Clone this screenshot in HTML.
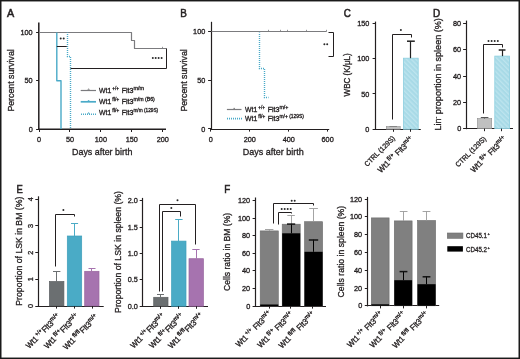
<!DOCTYPE html><html><head><meta charset="utf-8"><style>html,body{margin:0;padding:0;background:#fff;}svg{display:block;will-change:transform;font-family:"Liberation Sans", sans-serif;}text{stroke:#231f20;stroke-width:0.32px;}</style></head><body>
<svg width="520" height="359" viewBox="0 0 520 359">
<defs><pattern id="hatch" patternUnits="userSpaceOnUse" width="3.4" height="3.4" patternTransform="rotate(-45)"><rect width="3.4" height="3.4" fill="#a8dae7"/><rect width="1.3" height="3.4" fill="#bde4ee"/></pattern></defs>
<rect x="0" y="0" width="520" height="359" fill="#fff"/>
<text x="7.0" y="16.8" font-size="11" fill="#231f20" style="stroke-width:0.55px" textLength="7.2" lengthAdjust="spacingAndGlyphs">A</text>
<line x1="38.8" y1="22.4" x2="38.8" y2="129.9" stroke="#231f20" stroke-width="1.5" stroke-linecap="butt"/>
<line x1="38.3" y1="129.2" x2="166.0" y2="129.2" stroke="#231f20" stroke-width="1.5" stroke-linecap="butt"/>
<line x1="36.1" y1="32.5" x2="39.0" y2="32.5" stroke="#231f20" stroke-width="1.0" stroke-linecap="butt"/>
<text x="32.7" y="35.0" font-size="7.3" text-anchor="end" fill="#231f20">100</text>
<line x1="36.1" y1="80.5" x2="39.0" y2="80.5" stroke="#231f20" stroke-width="1.0" stroke-linecap="butt"/>
<text x="32.7" y="83.3" font-size="7.3" text-anchor="end" fill="#231f20">50</text>
<line x1="36.1" y1="129.5" x2="39.0" y2="129.5" stroke="#231f20" stroke-width="1.0" stroke-linecap="butt"/>
<text x="32.7" y="131.8" font-size="7.3" text-anchor="end" fill="#231f20">0</text>
<line x1="39.5" y1="129.2" x2="39.5" y2="132.0" stroke="#231f20" stroke-width="1.0" stroke-linecap="butt"/>
<text x="39.0" y="141.9" font-size="7.3" text-anchor="middle" fill="#231f20">0</text>
<line x1="69.5" y1="129.2" x2="69.5" y2="132.0" stroke="#231f20" stroke-width="1.0" stroke-linecap="butt"/>
<text x="69.95" y="141.9" font-size="7.3" text-anchor="middle" fill="#231f20">50</text>
<line x1="100.5" y1="129.2" x2="100.5" y2="132.0" stroke="#231f20" stroke-width="1.0" stroke-linecap="butt"/>
<text x="100.9" y="141.9" font-size="7.3" text-anchor="middle" fill="#231f20">100</text>
<line x1="131.5" y1="129.2" x2="131.5" y2="132.0" stroke="#231f20" stroke-width="1.0" stroke-linecap="butt"/>
<text x="131.85" y="141.9" font-size="7.3" text-anchor="middle" fill="#231f20">150</text>
<line x1="162.5" y1="129.2" x2="162.5" y2="132.0" stroke="#231f20" stroke-width="1.0" stroke-linecap="butt"/>
<text x="162.8" y="141.9" font-size="7.3" text-anchor="middle" fill="#231f20">200</text>
<text x="72.0" y="155.1" font-size="9.5" fill="#231f20" textLength="60.4" lengthAdjust="spacingAndGlyphs">Days after birth</text>
<g transform="translate(13.70,111.60) rotate(-90) scale(0.8866,1)"><text x="0" y="0" font-size="9.9" fill="#231f20">Percent survival</text></g>
<polyline points="39.5,32.5 131.5,32.5 131.5,40.5 134.5,40.5 134.5,48.5 166.5,48.5" fill="none" stroke="#7b7b7e" stroke-width="1.2" stroke-linejoin="round"/>
<line x1="162.5" y1="48.6" x2="162.5" y2="46.8" stroke="#7b7b7e" stroke-width="0.8" stroke-linecap="butt"/>
<polyline points="56.8,32.4 56.8,80.7 61.0,80.7 61.0,129.0" fill="none" stroke="#4aaac8" stroke-width="1.4" stroke-linejoin="round"/>
<polyline points="67.5,32.5 67.5,56.5 70.5,56.5 70.5,129" fill="none" stroke="#4aaac8" stroke-width="1.4" stroke-dasharray="1,1" stroke-dashoffset="0.5"/>
<line x1="56.8" y1="46.5" x2="66.8" y2="46.5" stroke="#231f20" stroke-width="1.0" stroke-linecap="butt"/>
<circle cx="60.7" cy="38.6" r="1.0" fill="#2a2a2a"/>
<circle cx="63.7" cy="38.6" r="1.0" fill="#2a2a2a"/>
<polyline points="70.5,68.5 166.5,68.5 166.5,48.5" fill="none" stroke="#231f20" stroke-width="1.0" stroke-linejoin="round"/>
<circle cx="152.8" cy="58.1" r="1.0" fill="#2a2a2a"/>
<circle cx="155.7" cy="58.1" r="1.0" fill="#2a2a2a"/>
<circle cx="158.6" cy="58.1" r="1.0" fill="#2a2a2a"/>
<circle cx="161.6" cy="58.1" r="1.0" fill="#2a2a2a"/>
<line x1="80.7" y1="90.5" x2="96.0" y2="90.5" stroke="#7b7b7e" stroke-width="1.2" stroke-linecap="butt"/>
<line x1="80.7" y1="101.8" x2="96.0" y2="101.8" stroke="#4aaac8" stroke-width="1.7" stroke-linecap="butt"/>
<line x1="81" y1="114.3" x2="96" y2="114.3" stroke="#4aaac8" stroke-width="1.6" stroke-dasharray="1,1"/>
<path d="M87.6,90.5 L88.6,88.7 L89.6,90.5" fill="none" stroke="#7b7b7e" stroke-width="0.8"/>
<path d="M87.6,101.8 L88.6,100.0 L89.6,101.8" fill="none" stroke="#4aaac8" stroke-width="0.8"/>
<path d="M87.6,114.3 L88.6,112.5 L89.6,114.3" fill="none" stroke="#4aaac8" stroke-width="0.8"/>
<text x="99.1" y="92.9" font-size="7.6" fill="#231f20" textLength="12.2" lengthAdjust="spacingAndGlyphs">Wt1</text>
<text x="112.3" y="89.9" font-size="5.4" fill="#231f20" textLength="6.8" lengthAdjust="spacingAndGlyphs">+/+</text>
<text x="121.7" y="92.9" font-size="7.6" fill="#231f20" textLength="11.8" lengthAdjust="spacingAndGlyphs">Flt3</text>
<text x="133.4" y="89.9" font-size="5.4" fill="#231f20" textLength="10.6" lengthAdjust="spacingAndGlyphs">m/m</text>
<text x="99.1" y="104.0" font-size="7.6" fill="#231f20" textLength="12.2" lengthAdjust="spacingAndGlyphs">Wt1</text>
<text x="112.3" y="101.0" font-size="5.4" fill="#231f20" textLength="7.1" lengthAdjust="spacingAndGlyphs">fl/+</text>
<text x="121.7" y="104.0" font-size="7.6" fill="#231f20" textLength="11.8" lengthAdjust="spacingAndGlyphs">Flt3</text>
<text x="133.4" y="101.0" font-size="5.4" fill="#231f20" textLength="21.4" lengthAdjust="spacingAndGlyphs">m/m (B6)</text>
<text x="99.1" y="115.2" font-size="7.6" fill="#231f20" textLength="12.2" lengthAdjust="spacingAndGlyphs">Wt1</text>
<text x="112.3" y="112.2" font-size="5.4" fill="#231f20" textLength="7.1" lengthAdjust="spacingAndGlyphs">fl/+</text>
<text x="121.7" y="115.2" font-size="7.6" fill="#231f20" textLength="11.8" lengthAdjust="spacingAndGlyphs">Flt3</text>
<text x="133.4" y="112.2" font-size="5.4" fill="#231f20" textLength="24.8" lengthAdjust="spacingAndGlyphs">m/m (129S)</text>
<text x="180.2" y="16.9" font-size="11" fill="#231f20" style="stroke-width:0.55px" textLength="6.6" lengthAdjust="spacingAndGlyphs">B</text>
<line x1="211.5" y1="21.8" x2="211.5" y2="129.6" stroke="#231f20" stroke-width="1.2" stroke-linecap="butt"/>
<line x1="210.4" y1="129.5" x2="329.2" y2="129.5" stroke="#231f20" stroke-width="1.2" stroke-linecap="butt"/>
<line x1="208.1" y1="31.5" x2="211.0" y2="31.5" stroke="#231f20" stroke-width="1.0" stroke-linecap="butt"/>
<text x="205.3" y="34.1" font-size="7.3" text-anchor="end" fill="#231f20">100</text>
<line x1="208.1" y1="80.5" x2="211.0" y2="80.5" stroke="#231f20" stroke-width="1.0" stroke-linecap="butt"/>
<text x="205.3" y="82.7" font-size="7.3" text-anchor="end" fill="#231f20">50</text>
<line x1="208.1" y1="128.5" x2="211.0" y2="128.5" stroke="#231f20" stroke-width="1.0" stroke-linecap="butt"/>
<text x="205.3" y="131.5" font-size="7.3" text-anchor="end" fill="#231f20">0</text>
<line x1="210.5" y1="129.0" x2="210.5" y2="131.6" stroke="#231f20" stroke-width="1.0" stroke-linecap="butt"/>
<text x="210.9" y="141.9" font-size="7.3" text-anchor="middle" fill="#231f20">0</text>
<line x1="249.5" y1="129.0" x2="249.5" y2="131.6" stroke="#231f20" stroke-width="1.0" stroke-linecap="butt"/>
<text x="249.82" y="141.9" font-size="7.3" text-anchor="middle" fill="#231f20">200</text>
<line x1="288.5" y1="129.0" x2="288.5" y2="131.6" stroke="#231f20" stroke-width="1.0" stroke-linecap="butt"/>
<text x="288.74" y="141.9" font-size="7.3" text-anchor="middle" fill="#231f20">400</text>
<line x1="327.5" y1="129.0" x2="327.5" y2="131.6" stroke="#231f20" stroke-width="1.0" stroke-linecap="butt"/>
<text x="327.66" y="141.9" font-size="7.3" text-anchor="middle" fill="#231f20">600</text>
<text x="242.8" y="155.0" font-size="9.5" fill="#231f20" textLength="61.0" lengthAdjust="spacingAndGlyphs">Days after birth</text>
<g transform="translate(186.80,111.60) rotate(-90) scale(0.8866,1)"><text x="0" y="0" font-size="9.9" fill="#231f20">Percent survival</text></g>
<polyline points="211.5,31.5 326.5,31.5" fill="none" stroke="#7b7b7e" stroke-width="1.2" stroke-linejoin="round"/>
<line x1="268.5" y1="31.6" x2="268.5" y2="29.8" stroke="#7b7b7e" stroke-width="0.8" stroke-linecap="butt"/>
<line x1="280.5" y1="31.6" x2="280.5" y2="29.8" stroke="#7b7b7e" stroke-width="0.8" stroke-linecap="butt"/>
<line x1="287.5" y1="31.6" x2="287.5" y2="29.8" stroke="#7b7b7e" stroke-width="0.8" stroke-linecap="butt"/>
<line x1="306.5" y1="31.6" x2="306.5" y2="29.8" stroke="#7b7b7e" stroke-width="0.8" stroke-linecap="butt"/>
<line x1="326.5" y1="31.6" x2="326.5" y2="29.8" stroke="#7b7b7e" stroke-width="0.8" stroke-linecap="butt"/>
<polyline points="259.5,32.5 259.5,68.5 264.5,68.5 264.5,97.5 268.5,97.5" fill="none" stroke="#4aaac8" stroke-width="1.4" stroke-dasharray="1,1" stroke-dashoffset="0.5"/>
<polyline points="328.5,32.5 333.5,32.5 333.5,56.5 328.5,56.5" fill="none" stroke="#231f20" stroke-width="1.0" stroke-linejoin="round"/>
<circle cx="324.4" cy="44.2" r="1.0" fill="#2a2a2a"/>
<circle cx="327.2" cy="44.2" r="1.0" fill="#2a2a2a"/>
<line x1="226.9" y1="109.5" x2="241.5" y2="109.5" stroke="#7b7b7e" stroke-width="1.2" stroke-linecap="butt"/>
<path d="M233.4,109.5 L234.2,107.9 L235.0,109.5" fill="none" stroke="#7b7b7e" stroke-width="0.8"/>
<line x1="227" y1="118.6" x2="242" y2="118.6" stroke="#4aaac8" stroke-width="1.6" stroke-dasharray="1,1"/>
<text x="245.1" y="111.9" font-size="7.6" fill="#231f20" textLength="12.2" lengthAdjust="spacingAndGlyphs">Wt1</text>
<text x="258.3" y="108.9" font-size="5.4" fill="#231f20" textLength="6.8" lengthAdjust="spacingAndGlyphs">+/+</text>
<text x="267.7" y="111.9" font-size="7.6" fill="#231f20" textLength="11.8" lengthAdjust="spacingAndGlyphs">Flt3</text>
<text x="279.4" y="108.9" font-size="5.4" fill="#231f20" textLength="9.1" lengthAdjust="spacingAndGlyphs">m/+</text>
<text x="245.1" y="120.5" font-size="7.6" fill="#231f20" textLength="12.2" lengthAdjust="spacingAndGlyphs">Wt1</text>
<text x="258.3" y="117.5" font-size="5.4" fill="#231f20" textLength="7.1" lengthAdjust="spacingAndGlyphs">fl/+</text>
<text x="267.7" y="120.5" font-size="7.6" fill="#231f20" textLength="11.8" lengthAdjust="spacingAndGlyphs">Flt3</text>
<text x="279.4" y="117.5" font-size="5.4" fill="#231f20" textLength="24.6" lengthAdjust="spacingAndGlyphs">m/+ (129S)</text>
<text x="343.8" y="16.8" font-size="11" fill="#231f20" style="stroke-width:0.55px" textLength="7.1" lengthAdjust="spacingAndGlyphs">C</text>
<line x1="375.5" y1="21.6" x2="375.5" y2="129.8" stroke="#231f20" stroke-width="1.2" stroke-linecap="butt"/>
<line x1="374.9" y1="129.5" x2="420.8" y2="129.5" stroke="#231f20" stroke-width="1.2" stroke-linecap="butt"/>
<line x1="372.6" y1="129.5" x2="375.5" y2="129.5" stroke="#231f20" stroke-width="1.0" stroke-linecap="butt"/>
<text x="369.4" y="131.8" font-size="7.3" text-anchor="end" fill="#231f20">0</text>
<line x1="372.6" y1="93.5" x2="375.5" y2="93.5" stroke="#231f20" stroke-width="1.0" stroke-linecap="butt"/>
<text x="369.4" y="96.57" font-size="7.3" text-anchor="end" fill="#231f20">50</text>
<line x1="372.6" y1="58.5" x2="375.5" y2="58.5" stroke="#231f20" stroke-width="1.0" stroke-linecap="butt"/>
<text x="369.4" y="61.34" font-size="7.3" text-anchor="end" fill="#231f20">100</text>
<line x1="372.6" y1="23.5" x2="375.5" y2="23.5" stroke="#231f20" stroke-width="1.0" stroke-linecap="butt"/>
<text x="369.4" y="26.11" font-size="7.3" text-anchor="end" fill="#231f20">150</text>
<g transform="translate(349.70,96.50) rotate(-90) scale(0.8174,1)"><text x="0" y="0" font-size="9.9" fill="#231f20">WBC (K/μL)</text></g>
<rect x="386.3" y="126.6" width="13.9" height="2.6" fill="#c0c0c0" stroke="#8c8c8c" stroke-width="0.6"/>
<line x1="389.5" y1="126.5" x2="397.0" y2="126.5" stroke="#7a7a7a" stroke-width="0.8" stroke-linecap="butt"/>
<rect x="403.4" y="58.2" width="14.8" height="71.0" fill="url(#hatch)" stroke="#8ccfe0" stroke-width="0.8"/>
<line x1="410.5" y1="58.2" x2="410.5" y2="41.0" stroke="#222" stroke-width="1.2" stroke-linecap="butt"/>
<line x1="407.0" y1="41.2" x2="414.8" y2="41.2" stroke="#222" stroke-width="1.5" stroke-linecap="butt"/>
<polyline points="392.5,119.5 392.5,34.5 411.5,34.5 411.5,37.5" fill="none" stroke="#231f20" stroke-width="1.0" stroke-linejoin="round"/>
<circle cx="400.9" cy="30.0" r="1.0" fill="#2a2a2a"/>
<line x1="393.5" y1="129.2" x2="393.5" y2="131.8" stroke="#231f20" stroke-width="1.0" stroke-linecap="butt"/>
<line x1="410.5" y1="129.2" x2="410.5" y2="131.8" stroke="#231f20" stroke-width="1.0" stroke-linecap="butt"/>
<g transform="rotate(-45) translate(181.57,377.74) scale(0.99)">
<text x="-40.5" y="0" font-size="7.2" fill="#231f20" textLength="40.5" lengthAdjust="spacingAndGlyphs">CTRL (129S)</text>
</g>
<g transform="rotate(-45) translate(193.83,392.01) scale(1.08)">
<text x="-43.4" y="0" font-size="7.6" fill="#231f20" textLength="12.2" lengthAdjust="spacingAndGlyphs">Wt1</text>
<text x="-30.2" y="-3.0" font-size="5.4" fill="#231f20" textLength="7.1" lengthAdjust="spacingAndGlyphs">fl/+</text>
<text x="-20.8" y="0" font-size="7.6" fill="#231f20" textLength="11.8" lengthAdjust="spacingAndGlyphs">Flt3</text>
<text x="-9.1" y="-3.0" font-size="5.4" fill="#231f20" textLength="9.1" lengthAdjust="spacingAndGlyphs">m/+</text>
</g>
<text x="432.9" y="16.6" font-size="11" fill="#231f20" style="stroke-width:0.55px" textLength="7.2" lengthAdjust="spacingAndGlyphs">D</text>
<line x1="466.5" y1="20.6" x2="466.5" y2="129.2" stroke="#231f20" stroke-width="1.2" stroke-linecap="butt"/>
<line x1="465.4" y1="128.5" x2="513.0" y2="128.5" stroke="#231f20" stroke-width="1.2" stroke-linecap="butt"/>
<line x1="463.1" y1="128.5" x2="466.0" y2="128.5" stroke="#231f20" stroke-width="1.0" stroke-linecap="butt"/>
<text x="461.2" y="131.2" font-size="7.3" text-anchor="end" fill="#231f20">0</text>
<line x1="463.1" y1="102.5" x2="466.0" y2="102.5" stroke="#231f20" stroke-width="1.0" stroke-linecap="butt"/>
<text x="461.2" y="104.95" font-size="7.3" text-anchor="end" fill="#231f20">20</text>
<line x1="463.1" y1="76.5" x2="466.0" y2="76.5" stroke="#231f20" stroke-width="1.0" stroke-linecap="butt"/>
<text x="461.2" y="78.7" font-size="7.3" text-anchor="end" fill="#231f20">40</text>
<line x1="463.1" y1="49.5" x2="466.0" y2="49.5" stroke="#231f20" stroke-width="1.0" stroke-linecap="butt"/>
<text x="461.2" y="52.45" font-size="7.3" text-anchor="end" fill="#231f20">60</text>
<line x1="463.1" y1="23.5" x2="466.0" y2="23.5" stroke="#231f20" stroke-width="1.0" stroke-linecap="butt"/>
<text x="461.2" y="26.2" font-size="7.3" text-anchor="end" fill="#231f20">80</text>
<g transform="translate(441.00,130.60) rotate(-90) scale(0.9146,1)"><text x="0" y="0" font-size="9.9" fill="#231f20">Lin<tspan font-size="6" dy="-3.4">-</tspan><tspan dy="3.4"> proportion in spleen (%)</tspan></text></g>
<rect x="477.5" y="118.6" width="14.2" height="10.0" fill="#c0c0c0" stroke="#8c8c8c" stroke-width="0.6"/>
<line x1="484.5" y1="118.6" x2="484.5" y2="117.5" stroke="#555" stroke-width="1.0" stroke-linecap="butt"/>
<line x1="480.8" y1="117.5" x2="488.4" y2="117.5" stroke="#555" stroke-width="1.0" stroke-linecap="butt"/>
<rect x="494.8" y="56.1" width="14.8" height="72.5" fill="url(#hatch)" stroke="#8ccfe0" stroke-width="0.8"/>
<line x1="502.5" y1="56.1" x2="502.5" y2="49.8" stroke="#222" stroke-width="1.2" stroke-linecap="butt"/>
<line x1="498.7" y1="50.0" x2="505.5" y2="50.0" stroke="#222" stroke-width="1.5" stroke-linecap="butt"/>
<polyline points="483.5,113.5 483.5,44.5 502.5,44.5 502.5,47.5" fill="none" stroke="#231f20" stroke-width="1.0" stroke-linejoin="round"/>
<circle cx="488.5" cy="41.0" r="1.0" fill="#2a2a2a"/>
<circle cx="491.6" cy="41.0" r="1.0" fill="#2a2a2a"/>
<circle cx="494.7" cy="41.0" r="1.0" fill="#2a2a2a"/>
<circle cx="497.8" cy="41.0" r="1.0" fill="#2a2a2a"/>
<line x1="484.5" y1="128.6" x2="484.5" y2="131.2" stroke="#231f20" stroke-width="1.0" stroke-linecap="butt"/>
<line x1="501.5" y1="128.6" x2="501.5" y2="131.2" stroke="#231f20" stroke-width="1.0" stroke-linecap="butt"/>
<g transform="rotate(-45) translate(245.57,442.51) scale(0.99)">
<text x="-40.5" y="0" font-size="7.2" fill="#231f20" textLength="40.5" lengthAdjust="spacingAndGlyphs">CTRL (129S)</text>
</g>
<g transform="rotate(-45) translate(259.66,457.42) scale(1.08)">
<text x="-43.4" y="0" font-size="7.6" fill="#231f20" textLength="12.2" lengthAdjust="spacingAndGlyphs">Wt1</text>
<text x="-30.2" y="-3.0" font-size="5.4" fill="#231f20" textLength="7.1" lengthAdjust="spacingAndGlyphs">fl/+</text>
<text x="-20.8" y="0" font-size="7.6" fill="#231f20" textLength="11.8" lengthAdjust="spacingAndGlyphs">Flt3</text>
<text x="-9.1" y="-3.0" font-size="5.4" fill="#231f20" textLength="9.1" lengthAdjust="spacingAndGlyphs">m/+</text>
</g>
<text x="16.4" y="193.0" font-size="11" fill="#231f20" style="stroke-width:0.55px" textLength="6.3" lengthAdjust="spacingAndGlyphs">E</text>
<line x1="38.5" y1="196.3" x2="38.5" y2="306.6" stroke="#231f20" stroke-width="1.2" stroke-linecap="butt"/>
<line x1="37.6" y1="306.5" x2="103.7" y2="306.5" stroke="#231f20" stroke-width="1.2" stroke-linecap="butt"/>
<line x1="35.3" y1="306.5" x2="38.2" y2="306.5" stroke="#231f20" stroke-width="1.0" stroke-linecap="butt"/>
<text transform="translate(32.6,306.0) rotate(-90)" font-size="7.3" text-anchor="middle" fill="#231f20">0</text>
<line x1="35.3" y1="279.5" x2="38.2" y2="279.5" stroke="#231f20" stroke-width="1.0" stroke-linecap="butt"/>
<text transform="translate(32.6,279.3) rotate(-90)" font-size="7.3" text-anchor="middle" fill="#231f20">1</text>
<line x1="35.3" y1="252.5" x2="38.2" y2="252.5" stroke="#231f20" stroke-width="1.0" stroke-linecap="butt"/>
<text transform="translate(32.6,252.6) rotate(-90)" font-size="7.3" text-anchor="middle" fill="#231f20">2</text>
<line x1="35.3" y1="225.5" x2="38.2" y2="225.5" stroke="#231f20" stroke-width="1.0" stroke-linecap="butt"/>
<text transform="translate(32.6,225.9) rotate(-90)" font-size="7.3" text-anchor="middle" fill="#231f20">3</text>
<line x1="35.3" y1="199.5" x2="38.2" y2="199.5" stroke="#231f20" stroke-width="1.0" stroke-linecap="butt"/>
<text transform="translate(32.6,199.2) rotate(-90)" font-size="7.3" text-anchor="middle" fill="#231f20">4</text>
<g transform="translate(22.30,305.70) rotate(-90) scale(0.8783,1)"><text x="0" y="0" font-size="9.9" fill="#231f20">Proportion of LSK in BM (%)</text></g>
<rect x="49.4" y="281.5" width="14.5" height="24.5" fill="#6b6f71" stroke="#5c6062" stroke-width="0.7"/>
<rect x="67.3" y="236.0" width="14.4" height="70.0" fill="#4aabc6" stroke="#3d9fbb" stroke-width="0.7"/>
<rect x="84.7" y="271.3" width="14.3" height="34.7" fill="#a673af" stroke="#97649d" stroke-width="0.7"/>
<line x1="56.5" y1="281.5" x2="56.5" y2="271.1" stroke="#6b6f71" stroke-width="1.0" stroke-linecap="butt"/>
<line x1="53.0" y1="271.5" x2="60.4" y2="271.5" stroke="#6b6f71" stroke-width="1.0" stroke-linecap="butt"/>
<line x1="74.5" y1="236.0" x2="74.5" y2="223.2" stroke="#4aabc6" stroke-width="1.0" stroke-linecap="butt"/>
<line x1="71.0" y1="223.5" x2="78.1" y2="223.5" stroke="#4aabc6" stroke-width="1.0" stroke-linecap="butt"/>
<line x1="91.5" y1="271.3" x2="91.5" y2="268.4" stroke="#a673af" stroke-width="1.0" stroke-linecap="butt"/>
<line x1="88.5" y1="268.5" x2="95.5" y2="268.5" stroke="#a673af" stroke-width="1.0" stroke-linecap="butt"/>
<polyline points="55.5,266.5 55.5,214.5 74.5,214.5 74.5,216.5" fill="none" stroke="#231f20" stroke-width="1.0" stroke-linejoin="round"/>
<circle cx="63.4" cy="210.0" r="1.0" fill="#2a2a2a"/>
<line x1="56.5" y1="306.0" x2="56.5" y2="308.6" stroke="#231f20" stroke-width="1.0" stroke-linecap="butt"/>
<line x1="74.5" y1="306.0" x2="74.5" y2="308.6" stroke="#231f20" stroke-width="1.0" stroke-linecap="butt"/>
<line x1="92.5" y1="306.0" x2="92.5" y2="308.6" stroke="#231f20" stroke-width="1.0" stroke-linecap="butt"/>
<line x1="142.5" y1="197.9" x2="142.5" y2="306.8" stroke="#231f20" stroke-width="1.2" stroke-linecap="butt"/>
<line x1="142.0" y1="306.5" x2="208.0" y2="306.5" stroke="#231f20" stroke-width="1.2" stroke-linecap="butt"/>
<line x1="139.7" y1="306.5" x2="142.6" y2="306.5" stroke="#231f20" stroke-width="1.0" stroke-linecap="butt"/>
<text x="137.8" y="308.8" font-size="7.3" text-anchor="end" fill="#231f20">0.0</text>
<line x1="139.7" y1="279.5" x2="142.6" y2="279.5" stroke="#231f20" stroke-width="1.0" stroke-linecap="butt"/>
<text x="137.8" y="282.4" font-size="7.3" text-anchor="end" fill="#231f20">0.5</text>
<line x1="139.7" y1="253.5" x2="142.6" y2="253.5" stroke="#231f20" stroke-width="1.0" stroke-linecap="butt"/>
<text x="137.8" y="256.0" font-size="7.3" text-anchor="end" fill="#231f20">1.0</text>
<line x1="139.7" y1="227.5" x2="142.6" y2="227.5" stroke="#231f20" stroke-width="1.0" stroke-linecap="butt"/>
<text x="137.8" y="229.6" font-size="7.3" text-anchor="end" fill="#231f20">1.5</text>
<line x1="139.7" y1="200.5" x2="142.6" y2="200.5" stroke="#231f20" stroke-width="1.0" stroke-linecap="butt"/>
<text x="137.8" y="203.2" font-size="7.3" text-anchor="end" fill="#231f20">2.0</text>
<g transform="translate(120.50,312.90) rotate(-90) scale(0.8800,1)"><text x="0" y="0" font-size="9.9" fill="#231f20">Proportion of LSK in spleen (%)</text></g>
<rect x="153.7" y="297.3" width="14.3" height="8.9" fill="#6b6f71" stroke="#5c6062" stroke-width="0.7"/>
<rect x="171.6" y="241.1" width="14.4" height="65.1" fill="#4aabc6" stroke="#3d9fbb" stroke-width="0.7"/>
<rect x="189.0" y="258.7" width="14.4" height="47.5" fill="#a673af" stroke="#97649d" stroke-width="0.7"/>
<line x1="160.5" y1="297.3" x2="160.5" y2="294.4" stroke="#6b6f71" stroke-width="1.0" stroke-linecap="butt"/>
<line x1="157.0" y1="294.5" x2="164.0" y2="294.5" stroke="#6b6f71" stroke-width="1.0" stroke-linecap="butt"/>
<line x1="178.5" y1="241.1" x2="178.5" y2="219.3" stroke="#4aabc6" stroke-width="1.0" stroke-linecap="butt"/>
<line x1="175.2" y1="219.5" x2="182.6" y2="219.5" stroke="#4aabc6" stroke-width="1.0" stroke-linecap="butt"/>
<line x1="196.5" y1="258.7" x2="196.5" y2="249.1" stroke="#a673af" stroke-width="1.0" stroke-linecap="butt"/>
<line x1="192.3" y1="249.5" x2="199.6" y2="249.5" stroke="#a673af" stroke-width="1.0" stroke-linecap="butt"/>
<polyline points="159.5,291.5 159.5,204.5 195.5,204.5 195.5,244.5" fill="none" stroke="#231f20" stroke-width="1.0" stroke-linejoin="round"/>
<polyline points="162.5,291.5 162.5,211.5 180.5,211.5 180.5,216.5" fill="none" stroke="#231f20" stroke-width="1.0" stroke-linejoin="round"/>
<circle cx="177.5" cy="200.2" r="1.0" fill="#2a2a2a"/>
<circle cx="171.3" cy="208.0" r="1.0" fill="#2a2a2a"/>
<line x1="160.5" y1="306.2" x2="160.5" y2="308.8" stroke="#231f20" stroke-width="1.0" stroke-linecap="butt"/>
<line x1="178.5" y1="306.2" x2="178.5" y2="308.8" stroke="#231f20" stroke-width="1.0" stroke-linecap="butt"/>
<line x1="196.5" y1="306.2" x2="196.5" y2="308.8" stroke="#231f20" stroke-width="1.0" stroke-linecap="butt"/>
<g transform="rotate(-45) translate(-181.03,267.40) scale(1.09)">
<text x="-41.3" y="0" font-size="7.6" fill="#231f20" textLength="12.2" lengthAdjust="spacingAndGlyphs">Wt1</text>
<text x="-28.1" y="-3.0" font-size="5.4" fill="#231f20" textLength="6.8" lengthAdjust="spacingAndGlyphs">+/+</text>
<text x="-20.8" y="0" font-size="7.6" fill="#231f20" textLength="11.8" lengthAdjust="spacingAndGlyphs">Flt3</text>
<text x="-9.1" y="-3.0" font-size="5.4" fill="#231f20" textLength="9.1" lengthAdjust="spacingAndGlyphs">m/+</text>
</g>
<g transform="rotate(-45) translate(-168.02,280.42) scale(1.09)">
<text x="-41.6" y="0" font-size="7.6" fill="#231f20" textLength="12.2" lengthAdjust="spacingAndGlyphs">Wt1</text>
<text x="-28.4" y="-3.0" font-size="5.4" fill="#231f20" textLength="7.1" lengthAdjust="spacingAndGlyphs">fl/+</text>
<text x="-20.8" y="0" font-size="7.6" fill="#231f20" textLength="11.8" lengthAdjust="spacingAndGlyphs">Flt3</text>
<text x="-9.1" y="-3.0" font-size="5.4" fill="#231f20" textLength="9.1" lengthAdjust="spacingAndGlyphs">m/+</text>
</g>
<g transform="rotate(-45) translate(-154.65,294.77) scale(1.09)">
<text x="-42.2" y="0" font-size="7.6" fill="#231f20" textLength="12.2" lengthAdjust="spacingAndGlyphs">Wt1</text>
<text x="-29.0" y="-3.0" font-size="5.4" fill="#231f20" textLength="7.7" lengthAdjust="spacingAndGlyphs">fl/fl</text>
<text x="-20.8" y="0" font-size="7.6" fill="#231f20" textLength="11.8" lengthAdjust="spacingAndGlyphs">Flt3</text>
<text x="-9.1" y="-3.0" font-size="5.4" fill="#231f20" textLength="9.1" lengthAdjust="spacingAndGlyphs">m/+</text>
</g>
<g transform="rotate(-45) translate(-106.99,341.30) scale(1.09)">
<text x="-41.3" y="0" font-size="7.6" fill="#231f20" textLength="12.2" lengthAdjust="spacingAndGlyphs">Wt1</text>
<text x="-28.1" y="-3.0" font-size="5.4" fill="#231f20" textLength="6.8" lengthAdjust="spacingAndGlyphs">+/+</text>
<text x="-20.8" y="0" font-size="7.6" fill="#231f20" textLength="11.8" lengthAdjust="spacingAndGlyphs">Flt3</text>
<text x="-9.1" y="-3.0" font-size="5.4" fill="#231f20" textLength="9.1" lengthAdjust="spacingAndGlyphs">m/+</text>
</g>
<g transform="rotate(-45) translate(-93.56,354.45) scale(1.09)">
<text x="-41.6" y="0" font-size="7.6" fill="#231f20" textLength="12.2" lengthAdjust="spacingAndGlyphs">Wt1</text>
<text x="-28.4" y="-3.0" font-size="5.4" fill="#231f20" textLength="7.1" lengthAdjust="spacingAndGlyphs">fl/+</text>
<text x="-20.8" y="0" font-size="7.6" fill="#231f20" textLength="11.8" lengthAdjust="spacingAndGlyphs">Flt3</text>
<text x="-9.1" y="-3.0" font-size="5.4" fill="#231f20" textLength="9.1" lengthAdjust="spacingAndGlyphs">m/+</text>
</g>
<g transform="rotate(-45) translate(-79.49,367.95) scale(1.09)">
<text x="-42.2" y="0" font-size="7.6" fill="#231f20" textLength="12.2" lengthAdjust="spacingAndGlyphs">Wt1</text>
<text x="-29.0" y="-3.0" font-size="5.4" fill="#231f20" textLength="7.7" lengthAdjust="spacingAndGlyphs">fl/fl</text>
<text x="-20.8" y="0" font-size="7.6" fill="#231f20" textLength="11.8" lengthAdjust="spacingAndGlyphs">Flt3</text>
<text x="-9.1" y="-3.0" font-size="5.4" fill="#231f20" textLength="9.1" lengthAdjust="spacingAndGlyphs">m/+</text>
</g>
<text x="224.3" y="192.8" font-size="11" fill="#231f20" style="stroke-width:0.55px" textLength="6.0" lengthAdjust="spacingAndGlyphs">F</text>
<line x1="255.5" y1="197.5" x2="255.5" y2="306.6" stroke="#231f20" stroke-width="1.2" stroke-linecap="butt"/>
<line x1="254.9" y1="306.5" x2="326.0" y2="306.5" stroke="#231f20" stroke-width="1.2" stroke-linecap="butt"/>
<line x1="252.6" y1="306.5" x2="255.5" y2="306.5" stroke="#231f20" stroke-width="1.0" stroke-linecap="butt"/>
<text x="250.2" y="308.6" font-size="7.3" text-anchor="end" fill="#231f20">0</text>
<line x1="252.6" y1="288.5" x2="255.5" y2="288.5" stroke="#231f20" stroke-width="1.0" stroke-linecap="butt"/>
<text x="250.2" y="291.02" font-size="7.3" text-anchor="end" fill="#231f20">20</text>
<line x1="252.6" y1="270.5" x2="255.5" y2="270.5" stroke="#231f20" stroke-width="1.0" stroke-linecap="butt"/>
<text x="250.2" y="273.43" font-size="7.3" text-anchor="end" fill="#231f20">40</text>
<line x1="252.6" y1="253.5" x2="255.5" y2="253.5" stroke="#231f20" stroke-width="1.0" stroke-linecap="butt"/>
<text x="250.2" y="255.85" font-size="7.3" text-anchor="end" fill="#231f20">60</text>
<line x1="252.6" y1="235.5" x2="255.5" y2="235.5" stroke="#231f20" stroke-width="1.0" stroke-linecap="butt"/>
<text x="250.2" y="238.26" font-size="7.3" text-anchor="end" fill="#231f20">80</text>
<line x1="252.6" y1="218.5" x2="255.5" y2="218.5" stroke="#231f20" stroke-width="1.0" stroke-linecap="butt"/>
<text x="250.2" y="220.68" font-size="7.3" text-anchor="end" fill="#231f20">100</text>
<line x1="252.6" y1="200.5" x2="255.5" y2="200.5" stroke="#231f20" stroke-width="1.0" stroke-linecap="butt"/>
<text x="250.2" y="203.1" font-size="7.3" text-anchor="end" fill="#231f20">120</text>
<g transform="translate(230.30,290.90) rotate(-90) scale(0.8659,1)"><text x="0" y="0" font-size="9.9" fill="#231f20">Cells ratio in BM (%)</text></g>
<rect x="260.2" y="230.9" width="18.1" height="75.1" fill="#808080" stroke="#6c6c6c" stroke-width="0.6"/>
<rect x="260.2" y="304.5" width="18.1" height="1.5" fill="#000"/>
<line x1="269.5" y1="230.9" x2="269.5" y2="229.8" stroke="#9a9a9a" stroke-width="0.9" stroke-linecap="butt"/>
<line x1="265.0" y1="229.5" x2="273.4" y2="229.5" stroke="#9a9a9a" stroke-width="0.9" stroke-linecap="butt"/>
<rect x="282.2" y="224.2" width="18.0" height="81.8" fill="#808080" stroke="#6c6c6c" stroke-width="0.6"/>
<rect x="282.2" y="233.3" width="18.0" height="72.7" fill="#000"/>
<line x1="291.5" y1="224.2" x2="291.5" y2="215.5" stroke="#9a9a9a" stroke-width="0.9" stroke-linecap="butt"/>
<line x1="287.3" y1="215.5" x2="294.8" y2="215.5" stroke="#9a9a9a" stroke-width="0.9" stroke-linecap="butt"/>
<line x1="291.5" y1="233.3" x2="291.5" y2="223.8" stroke="#000" stroke-width="1.0" stroke-linecap="butt"/>
<line x1="287.0" y1="224.1" x2="295.2" y2="224.1" stroke="#111" stroke-width="1.5" stroke-linecap="butt"/>
<rect x="304.5" y="221.7" width="18.1" height="84.3" fill="#808080" stroke="#6c6c6c" stroke-width="0.6"/>
<rect x="304.5" y="251.8" width="18.1" height="54.2" fill="#000"/>
<line x1="313.5" y1="221.7" x2="313.5" y2="208.9" stroke="#9a9a9a" stroke-width="0.9" stroke-linecap="butt"/>
<line x1="309.2" y1="208.5" x2="317.9" y2="208.5" stroke="#9a9a9a" stroke-width="0.9" stroke-linecap="butt"/>
<line x1="313.5" y1="251.8" x2="313.5" y2="239.7" stroke="#000" stroke-width="1.0" stroke-linecap="butt"/>
<line x1="308.8" y1="240.0" x2="318.2" y2="240.0" stroke="#111" stroke-width="1.5" stroke-linecap="butt"/>
<polyline points="273.5,223.5 273.5,203.5 313.5,203.5 313.5,205.5" fill="none" stroke="#231f20" stroke-width="1.0" stroke-linejoin="round"/>
<polyline points="278.5,224.5 278.5,212.5 291.5,212.5 291.5,213.5" fill="none" stroke="#231f20" stroke-width="1.0" stroke-linejoin="round"/>
<circle cx="291.7" cy="200.8" r="1.0" fill="#2a2a2a"/>
<circle cx="294.7" cy="200.8" r="1.0" fill="#2a2a2a"/>
<circle cx="281.7" cy="208.9" r="1.0" fill="#2a2a2a"/>
<circle cx="284.7" cy="208.9" r="1.0" fill="#2a2a2a"/>
<circle cx="287.7" cy="208.9" r="1.0" fill="#2a2a2a"/>
<circle cx="290.7" cy="208.9" r="1.0" fill="#2a2a2a"/>
<line x1="269.5" y1="306.0" x2="269.5" y2="308.6" stroke="#231f20" stroke-width="1.0" stroke-linecap="butt"/>
<line x1="290.5" y1="306.0" x2="290.5" y2="308.6" stroke="#231f20" stroke-width="1.0" stroke-linecap="butt"/>
<line x1="312.5" y1="306.0" x2="312.5" y2="308.6" stroke="#231f20" stroke-width="1.0" stroke-linecap="butt"/>
<line x1="367.5" y1="196.9" x2="367.5" y2="306.4" stroke="#231f20" stroke-width="1.2" stroke-linecap="butt"/>
<line x1="367.1" y1="305.5" x2="439.2" y2="305.5" stroke="#231f20" stroke-width="1.2" stroke-linecap="butt"/>
<line x1="364.8" y1="305.5" x2="367.7" y2="305.5" stroke="#231f20" stroke-width="1.0" stroke-linecap="butt"/>
<text x="362.2" y="308.4" font-size="7.3" text-anchor="end" fill="#231f20">0</text>
<line x1="364.8" y1="288.5" x2="367.7" y2="288.5" stroke="#231f20" stroke-width="1.0" stroke-linecap="butt"/>
<text x="362.2" y="290.6" font-size="7.3" text-anchor="end" fill="#231f20">20</text>
<line x1="364.8" y1="270.5" x2="367.7" y2="270.5" stroke="#231f20" stroke-width="1.0" stroke-linecap="butt"/>
<text x="362.2" y="272.8" font-size="7.3" text-anchor="end" fill="#231f20">40</text>
<line x1="364.8" y1="252.5" x2="367.7" y2="252.5" stroke="#231f20" stroke-width="1.0" stroke-linecap="butt"/>
<text x="362.2" y="255.0" font-size="7.3" text-anchor="end" fill="#231f20">60</text>
<line x1="364.8" y1="234.5" x2="367.7" y2="234.5" stroke="#231f20" stroke-width="1.0" stroke-linecap="butt"/>
<text x="362.2" y="237.2" font-size="7.3" text-anchor="end" fill="#231f20">80</text>
<line x1="364.8" y1="216.5" x2="367.7" y2="216.5" stroke="#231f20" stroke-width="1.0" stroke-linecap="butt"/>
<text x="362.2" y="219.4" font-size="7.3" text-anchor="end" fill="#231f20">100</text>
<line x1="364.8" y1="199.5" x2="367.7" y2="199.5" stroke="#231f20" stroke-width="1.0" stroke-linecap="butt"/>
<text x="362.2" y="201.6" font-size="7.3" text-anchor="end" fill="#231f20">120</text>
<g transform="translate(343.70,297.40) rotate(-90) scale(0.8777,1)"><text x="0" y="0" font-size="9.9" fill="#231f20">Cells ratio in spleen (%)</text></g>
<rect x="371.3" y="217.9" width="17.8" height="87.9" fill="#808080" stroke="#6c6c6c" stroke-width="0.6"/>
<rect x="371.3" y="304.3" width="17.8" height="1.5" fill="#000"/>
<rect x="394.3" y="220.9" width="17.8" height="84.9" fill="#808080" stroke="#6c6c6c" stroke-width="0.6"/>
<rect x="394.3" y="280.2" width="17.8" height="25.6" fill="#000"/>
<line x1="403.5" y1="220.9" x2="403.5" y2="211.6" stroke="#9a9a9a" stroke-width="0.9" stroke-linecap="butt"/>
<line x1="399.8" y1="211.5" x2="407.5" y2="211.5" stroke="#9a9a9a" stroke-width="0.9" stroke-linecap="butt"/>
<line x1="403.5" y1="280.2" x2="403.5" y2="271.3" stroke="#000" stroke-width="1.0" stroke-linecap="butt"/>
<line x1="399.6" y1="271.6" x2="407.4" y2="271.6" stroke="#111" stroke-width="1.5" stroke-linecap="butt"/>
<rect x="417.5" y="220.5" width="18.1" height="85.3" fill="#808080" stroke="#6c6c6c" stroke-width="0.6"/>
<rect x="417.5" y="284.2" width="18.1" height="21.6" fill="#000"/>
<line x1="426.5" y1="220.5" x2="426.5" y2="211.3" stroke="#9a9a9a" stroke-width="0.9" stroke-linecap="butt"/>
<line x1="422.6" y1="211.5" x2="430.4" y2="211.5" stroke="#9a9a9a" stroke-width="0.9" stroke-linecap="butt"/>
<line x1="426.5" y1="284.2" x2="426.5" y2="276.5" stroke="#000" stroke-width="1.0" stroke-linecap="butt"/>
<line x1="422.6" y1="276.8" x2="430.4" y2="276.8" stroke="#111" stroke-width="1.5" stroke-linecap="butt"/>
<line x1="380.5" y1="305.8" x2="380.5" y2="308.4" stroke="#231f20" stroke-width="1.0" stroke-linecap="butt"/>
<line x1="403.5" y1="305.8" x2="403.5" y2="308.4" stroke="#231f20" stroke-width="1.0" stroke-linecap="butt"/>
<line x1="426.5" y1="305.8" x2="426.5" y2="308.4" stroke="#231f20" stroke-width="1.0" stroke-linecap="butt"/>
<rect x="447.3" y="233.0" width="15.6" height="5.3" fill="#808080" stroke="#6c6c6c" stroke-width="0.6"/>
<rect x="447.3" y="246.2" width="15.6" height="5.4" fill="#000"/>
<text x="466.0" y="238.4" font-size="7.2" fill="#231f20" textLength="21.0" lengthAdjust="spacingAndGlyphs">CD45.1</text>
<text x="487.4" y="235.2" font-size="4.2" fill="#231f20">+</text>
<text x="466.0" y="251.7" font-size="7.2" fill="#231f20" textLength="21.0" lengthAdjust="spacingAndGlyphs">CD45.2</text>
<text x="487.4" y="248.5" font-size="4.2" fill="#231f20">+</text>
<g transform="rotate(-45) translate(-29.91,414.82) scale(1.08)">
<text x="-43.4" y="0" font-size="7.6" fill="#231f20" textLength="12.2" lengthAdjust="spacingAndGlyphs">Wt1</text>
<text x="-30.2" y="-3.0" font-size="5.4" fill="#231f20" textLength="6.8" lengthAdjust="spacingAndGlyphs">+/+</text>
<text x="-20.8" y="0" font-size="7.6" fill="#231f20" textLength="11.8" lengthAdjust="spacingAndGlyphs">Flt3</text>
<text x="-9.1" y="-3.0" font-size="5.4" fill="#231f20" textLength="9.1" lengthAdjust="spacingAndGlyphs">m/+</text>
</g>
<g transform="rotate(-45) translate(-14.99,430.73) scale(1.08)">
<text x="-43.4" y="0" font-size="7.6" fill="#231f20" textLength="12.2" lengthAdjust="spacingAndGlyphs">Wt1</text>
<text x="-30.2" y="-3.0" font-size="5.4" fill="#231f20" textLength="7.1" lengthAdjust="spacingAndGlyphs">fl/+</text>
<text x="-20.8" y="0" font-size="7.6" fill="#231f20" textLength="11.8" lengthAdjust="spacingAndGlyphs">Flt3</text>
<text x="-9.1" y="-3.0" font-size="5.4" fill="#231f20" textLength="9.1" lengthAdjust="spacingAndGlyphs">m/+</text>
</g>
<g transform="rotate(-45) translate(0.43,446.00) scale(1.08)">
<text x="-44.0" y="0" font-size="7.6" fill="#231f20" textLength="12.2" lengthAdjust="spacingAndGlyphs">Wt1</text>
<text x="-30.8" y="-3.0" font-size="5.4" fill="#231f20" textLength="7.7" lengthAdjust="spacingAndGlyphs">fl/fl</text>
<text x="-20.8" y="0" font-size="7.6" fill="#231f20" textLength="11.8" lengthAdjust="spacingAndGlyphs">Flt3</text>
<text x="-9.1" y="-3.0" font-size="5.4" fill="#231f20" textLength="9.1" lengthAdjust="spacingAndGlyphs">m/+</text>
</g>
<g transform="rotate(-45) translate(48.65,493.94) scale(1.08)">
<text x="-43.4" y="0" font-size="7.6" fill="#231f20" textLength="12.2" lengthAdjust="spacingAndGlyphs">Wt1</text>
<text x="-30.2" y="-3.0" font-size="5.4" fill="#231f20" textLength="6.8" lengthAdjust="spacingAndGlyphs">+/+</text>
<text x="-20.8" y="0" font-size="7.6" fill="#231f20" textLength="11.8" lengthAdjust="spacingAndGlyphs">Flt3</text>
<text x="-9.1" y="-3.0" font-size="5.4" fill="#231f20" textLength="9.1" lengthAdjust="spacingAndGlyphs">m/+</text>
</g>
<g transform="rotate(-45) translate(64.42,509.92) scale(1.08)">
<text x="-43.4" y="0" font-size="7.6" fill="#231f20" textLength="12.2" lengthAdjust="spacingAndGlyphs">Wt1</text>
<text x="-30.2" y="-3.0" font-size="5.4" fill="#231f20" textLength="7.1" lengthAdjust="spacingAndGlyphs">fl/+</text>
<text x="-20.8" y="0" font-size="7.6" fill="#231f20" textLength="11.8" lengthAdjust="spacingAndGlyphs">Flt3</text>
<text x="-9.1" y="-3.0" font-size="5.4" fill="#231f20" textLength="9.1" lengthAdjust="spacingAndGlyphs">m/+</text>
</g>
<g transform="rotate(-45) translate(80.69,526.33) scale(1.08)">
<text x="-44.0" y="0" font-size="7.6" fill="#231f20" textLength="12.2" lengthAdjust="spacingAndGlyphs">Wt1</text>
<text x="-30.8" y="-3.0" font-size="5.4" fill="#231f20" textLength="7.7" lengthAdjust="spacingAndGlyphs">fl/fl</text>
<text x="-20.8" y="0" font-size="7.6" fill="#231f20" textLength="11.8" lengthAdjust="spacingAndGlyphs">Flt3</text>
<text x="-9.1" y="-3.0" font-size="5.4" fill="#231f20" textLength="9.1" lengthAdjust="spacingAndGlyphs">m/+</text>
</g>
<rect x="0.75" y="0.7" width="518.5" height="357.6" fill="none" stroke="#1a1a1a" stroke-width="1.5"/>
</svg></body></html>
